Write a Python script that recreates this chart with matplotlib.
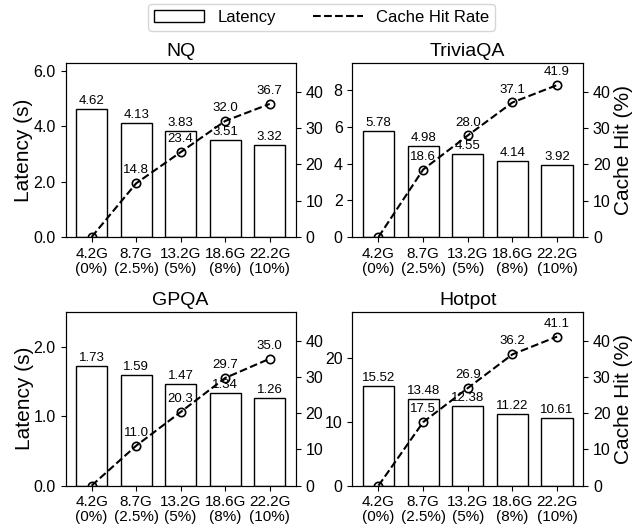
import numpy as np
import matplotlib.pyplot as plt
from matplotlib.lines import Line2D
from matplotlib.patches import Patch

plt.rcParams['font.family'] = ['Liberation Sans', 'DejaVu Sans']

# data
cache_sizes = ['4.2G\n(0%)', '8.7G\n(2.5%)', '13.2G\n(5%)', '18.6G\n(8%)', '22.2G\n(10%)']
datasets = ['NQ', 'TriviaQA', 'GPQA', 'Hotpot']

nq_latency = [4.62, 4.13, 3.83, 3.51, 3.32]
nq_hit = [0.0, 14.8, 23.4, 32.0, 36.7]
trivia_latency = [5.78, 4.98, 4.55, 4.14, 3.92]
trivia_hit = [0.0, 18.6, 28.0, 37.1, 41.9]
gpqa_latency = [1.73, 1.59, 1.47, 1.34, 1.26]
gpqa_hit = [0.0, 11.0, 20.3, 29.7, 35.0]
hotpot_latency = [15.52, 13.48, 12.38, 11.22, 10.61]
hotpot_hit = [0.0, 17.5, 26.9, 36.2, 41.1]

latencies = [nq_latency, trivia_latency, gpqa_latency, hotpot_latency]
hits = [nq_hit, trivia_hit, gpqa_hit, hotpot_hit]

# per-panel layout (left y limit, ticks, tick format)
lat_ylim = [6.3, 9.5, 2.51, 27.2]
lat_ticks = [[0, 2, 4, 6], [0, 2, 4, 6, 8], [0, 1, 2], [0, 10, 20]]
lat_fmt = ['{:.1f}', '{:.0f}', '{:.1f}', '{:.0f}']

fig = plt.figure(figsize=(6.43, 5.29), dpi=100)
positions = [
    [0.102, 0.552, 0.358, 0.329],
    [0.548, 0.552, 0.359, 0.329],
    [0.102, 0.082, 0.358, 0.329],
    [0.548, 0.082, 0.359, 0.329],
]

x = np.arange(len(cache_sizes))
for i, name in enumerate(datasets):
    ax = fig.add_axes(positions[i])
    bars = ax.bar(x, latencies[i], width=0.7, color='white', edgecolor='black', linewidth=1.0)
    ax.bar_label(bars, labels=[f'{v:.2f}' for v in latencies[i]], padding=1.5, fontsize=9.5)
    ax.set_ylim(0, lat_ylim[i])
    ax.set_yticks(lat_ticks[i])
    ax.set_yticklabels([lat_fmt[i].format(t) for t in lat_ticks[i]], fontsize=11.5)
    ax.set_xticks(x)
    ax.set_xticklabels(cache_sizes, fontsize=11, linespacing=1.1)
    ax.set_title(name, fontsize=14, pad=5)
    if i % 2 == 0:
        ax.set_ylabel('Latency (s)', fontsize=15, labelpad=0)

    ax2 = ax.twinx()
    ax2.plot(x, hits[i], linestyle='--', color='black', linewidth=1.5,
             marker='o', markersize=6, markerfacecolor='none', markeredgewidth=1.2)
    for xi, h in zip(x, hits[i]):
        if h > 0:
            ax2.annotate(f'{h:.1f}', (xi, h), xytext=(0, 5), textcoords='offset points',
                         ha='center', va='bottom', fontsize=9.5)
    ax2.set_ylim(0, 48)
    ax2.set_yticks([0, 10, 20, 30, 40])
    ax2.tick_params(axis='y', labelsize=11.5)
    if i % 2 == 1:
        ax2.set_ylabel('Cache Hit (%)', fontsize=15, labelpad=2)

handles = [
    Patch(facecolor='white', edgecolor='black', linewidth=1.0),
    Line2D([0], [0], color='black', linestyle='--', linewidth=1.5),
]
fig.legend(handles, ['Latency', 'Cache Hit Rate'], loc='upper center', ncol=2,
           bbox_to_anchor=(0.5, 1.008), fontsize=12, frameon=True,
           handlelength=3.0, columnspacing=2.2, borderpad=0.35)

fig.savefig('out.png', dpi=100)
